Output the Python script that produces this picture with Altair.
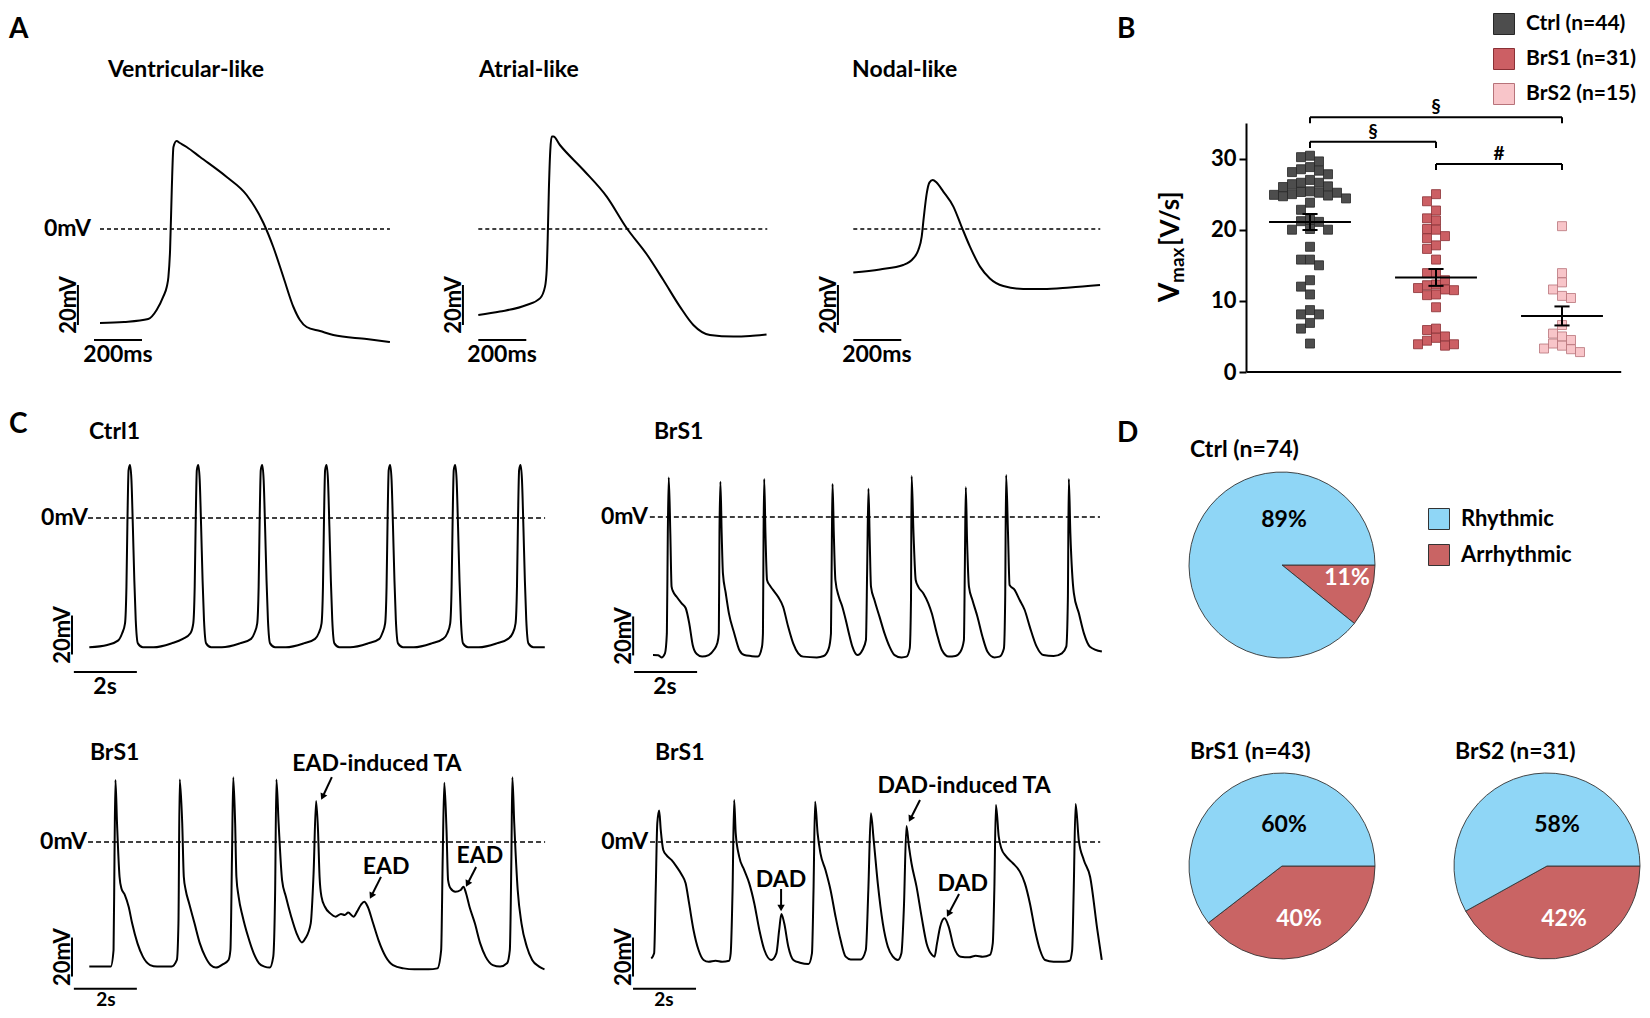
import math
import pandas as pd
import altair as alt

FONT = "Lato"
OX, OY = 8, 8
W, H = 1634, 1002
FS = 23  # main label font size

# ---------------- Panel A: single action potentials (time ms, mV) ----------------
vent_t = [0, 100, 201, 236, 264, 278, 285, 292, 299, 306, 319, 333, 361, 417, 528, 611, 681, 722, 764, 806, 833, 861, 917, 972, 1111, 1208]
vent_v = [-47, -46.5, -45, -40.5, -33.7, -29, -24, -10.5, 19.5, 41, 44, 43, 41, 36, 26, 17, 3, -9, -24, -39, -45.5, -49, -51, -53, -55, -56.5]
atr_t = [0, 90, 201, 257, 278, 285, 289, 294, 300, 306, 313, 340, 438, 535, 618, 701, 771, 840, 896, 965, 1063, 1132, 1201]
atr_v = [-43, -41.3, -38, -34.7, -28.8, -20.5, -5.5, 19.5, 39.5, 46.2, 46.2, 42, 29.5, 16.2, 0.5, -12.5, -25.5, -38.8, -48, -53, -53.8, -53.5, -52.7]
nod_t = [0, 111, 208, 250, 271, 285, 294, 306, 317, 331, 347, 375, 417, 451, 486, 528, 569, 625, 708, 792, 903, 1028]
nod_v = [-21.8, -20.2, -18, -14.7, -10.5, -3.8, 6.2, 17.8, 23.2, 24.5, 23.2, 18.7, 11.2, 1.2, -8.8, -18.8, -24.7, -28.5, -30, -30, -29.2, -28]

# ---------------- Panel B: Vmax (V/s) ----------------
groups = ["Ctrl", "BrS1", "BrS2"]
ctrl_vmax = [30.2, 30.4, 28.8, 28.5, 29.6, 28.1, 28.3, 27.8, 27.0, 26.6, 26.6, 26.1, 26.4, 26.0,
             25.4, 25.2, 25.0, 24.8, 24.9, 25.2, 25.3, 24.4, 24.7, 23.8, 22.8, 21.4, 21.1, 21.2,
             20.0, 20.0, 20.1, 17.6, 15.8, 15.8, 15.0, 12.9, 12.0, 10.9, 8.7, 8.1, 8.1, 6.9, 6.1, 4.0]
brs1_vmax = [25.0, 24.0, 22.7, 21.6, 21.3, 20.1, 20.0, 19.1, 18.8, 17.8, 17.3, 15.8, 13.9, 13.9,
             12.9, 12.2, 12.3, 11.8, 11.6, 11.5, 10.9, 10.8, 9.1, 6.1, 5.9, 4.8, 5.0, 4.4, 3.9, 3.7, 3.9]
brs2_vmax = [20.5, 13.9, 12.6, 11.6, 10.7, 10.4, 6.6, 5.4, 5.0, 4.5, 4.0, 3.7, 3.3, 3.2, 2.8]
vmax_ticks = [0, 10, 20, 30]
sig_pairs = [(0, 2, "§"), (0, 1, "§"), (1, 2, "#")]
sig_levels = [35.8, 32.35, 29.25]

# ---------------- Panel C: spontaneous activity (time s, mV) ----------------
ctrl1 = [(0, -66.3), (0.57, -65.1), (0.91, -62.9),
    (1.043, -59.1), (1.134, -54), (1.179, -35.2), (1.213, 0.7), (1.247, 24.6), (1.293, 27.2), (1.338, 19.5), (1.383, -4.4), (1.429, -31.8), (1.474, -52.3), (1.542, -64.3), (1.701, -66.3), (2.041, -66.3), (2.608, -64.3), (2.97, -62),
    (3.21, -59.1), (3.301, -54), (3.346, -35.2), (3.38, 0.7), (3.414, 24.6), (3.46, 27.2), (3.505, 19.5), (3.55, -4.4), (3.596, -31.8), (3.641, -52.3), (3.709, -64.3), (3.868, -66.3), (4.208, -66.3), (4.775, -64.3), (5.137, -62),
    (5.24, -59.1), (5.331, -54), (5.376, -35.2), (5.41, 0.7), (5.444, 24.6), (5.49, 27.2), (5.535, 19.5), (5.58, -4.4), (5.626, -31.8), (5.671, -52.3), (5.739, -64.3), (5.898, -66.3), (6.238, -66.3), (6.805, -64.3), (7.167, -62),
    (7.282, -59.1), (7.373, -54), (7.418, -35.2), (7.452, 0.7), (7.486, 24.6), (7.532, 27.2), (7.577, 19.5), (7.622, -4.4), (7.668, -31.8), (7.713, -52.3), (7.781, -64.3), (7.94, -66.3), (8.28, -66.3), (8.847, -64.3), (9.209, -62),
    (9.301, -59.1), (9.392, -54), (9.437, -35.2), (9.471, 0.7), (9.505, 24.6), (9.551, 27.2), (9.596, 19.5), (9.641, -4.4), (9.687, -31.8), (9.732, -52.3), (9.80, -64.3), (9.959, -66.3), (10.299, -66.3), (10.866, -64.3), (11.228, -62),
    (11.366, -59.1), (11.457, -54), (11.502, -35.2), (11.536, 0.7), (11.57, 24.6), (11.616, 27.2), (11.661, 19.5), (11.706, -4.4), (11.752, -31.8), (11.797, -52.3), (11.865, -64.3), (12.024, -66.3), (12.364, -66.3), (12.931, -64.3), (13.293, -62),
    (13.441, -59.1), (13.532, -54), (13.577, -35.2), (13.611, 0.7), (13.645, 24.6), (13.691, 27.2), (13.736, 19.5), (13.781, -4.4), (13.827, -31.8), (13.872, -52.3), (13.94, -64.3), (14.099, -66.3), (14.46, -66.3)]

brs1_top = [(0, -70.8), (0.16, -70.9), (0.27, -72.0), (0.38, -69.9), (0.44, -59.7), (0.47, -8.4), (0.50, 20.3), (0.55, -8.4),
    (0.59, -35.7), (0.64, -38.3), (0.75, -40.9), (0.91, -44.3), (1.04, -46.8), (1.15, -54.5), (1.26, -65.6), (1.39, -70.3),
    (1.56, -71.6), (1.77, -70.8), (1.93, -68.2), (2.04, -64.8), (2.09, -59.7), (2.11, -8.4), (2.14, 18.1), (2.18, -8.4),
    (2.22, -28.9), (2.31, -39.1), (2.41, -49.4), (2.58, -59.7), (2.74, -68.2), (2.90, -70.8), (3.11, -71.3), (3.33, -71.6),
    (3.46, -66.5), (3.49, -59.7), (3.51, -8.4), (3.53, 19.5), (3.57, -8.4), (3.62, -32.3), (3.70, -34.9), (3.81, -37.4),
    (3.97, -40.9), (4.13, -46.0), (4.29, -56.2), (4.45, -64.8), (4.61, -69.9), (4.77, -71.6), (5.20, -72.0), (5.42, -71.3),
    (5.58, -67.4), (5.65, -59.7), (5.68, -8.4), (5.70, 16.9), (5.74, -8.4), (5.79, -32.3), (5.90, -40.9), (6.01, -46.0),
    (6.12, -52.8), (6.22, -59.7), (6.33, -66.5), (6.49, -70.8), (6.65, -68.2), (6.76, -63.1), (6.80, -25.5), (6.84, 14.5),
    (6.88, -11.8), (6.92, -35.7), (7.03, -42.6), (7.19, -51.1), (7.35, -59.7), (7.51, -66.5), (7.67, -70.8), (7.89, -72.0),
    (8.05, -71.6), (8.15, -67.4), (8.19, -42.6), (8.21, 21.0), (8.27, -8.4), (8.34, -32.3), (8.42, -35.7), (8.58, -39.1),
    (8.74, -44.3), (8.85, -49.4), (9.01, -59.7), (9.17, -68.2), (9.39, -71.6), (9.60, -71.3), (9.76, -69.1), (9.87, -63.1),
    (9.90, -25.5), (9.93, 15.2), (9.97, -11.8), (10.03, -35.7), (10.14, -42.6), (10.30, -51.1), (10.46, -61.4), (10.62, -69.1),
    (10.84, -72.0), (11.00, -71.6), (11.14, -67.4), (11.18, -42.6), (11.21, 21.5), (11.27, -8.4), (11.32, -34.9), (11.48, -37.4),
    (11.64, -42.6), (11.80, -47.7), (11.96, -56.2), (12.18, -66.5), (12.39, -70.8), (12.72, -71.3), (12.98, -69.9), (13.12, -66.5),
    (13.17, -42.6), (13.20, 19.5), (13.25, -8.4), (13.36, -39.1), (13.52, -49.4), (13.68, -59.7), (13.87, -66.5), (14.25, -69.0)]

brs1_ead = [(0, -63.9), (0.68, -63.9), (0.77, -55.4), (0.80, -7.5), (0.83, 31.8), (0.88, 9.6), (0.96, -17.8), (1.02, -23.8),
    (1.13, -27.2), (1.25, -33.2), (1.36, -41.7), (1.53, -52.0), (1.70, -58.8), (1.93, -63.1), (2.15, -63.9), (2.61, -63.9),
    (2.78, -60.5), (2.83, -41.7), (2.87, 32.1), (2.95, 9.6), (3.00, -17.8), (3.06, -24.6), (3.17, -31.5), (3.34, -41.7),
    (3.51, -52.0), (3.68, -58.8), (3.85, -63.1), (4.02, -64.4), (4.25, -62.6), (4.42, -60.5), (4.48, -55.4), (4.53, -7.5),
    (4.57, 33.2), (4.63, 9.6), (4.67, -17.8), (4.74, -28.0), (4.87, -38.3), (5.04, -48.5), (5.22, -57.1), (5.39, -62.2),
    (5.56, -63.9), (5.73, -64.4), (5.84, -58.8), (5.90, -24.6), (5.94, 32.1), (6.01, 9.6), (6.12, -19.5), (6.24, -28.0),
    (6.41, -38.3), (6.58, -46.8), (6.75, -51.5), (6.86, -49.4), (7.03, -41.7), (7.12, -16.1), (7.20, 21.0), (7.26, 6.2),
    (7.31, -17.8), (7.37, -28.0), (7.48, -33.2), (7.65, -36.6), (7.82, -38.3), (7.99, -36.9), (8.11, -37.4), (8.22, -36.2),
    (8.39, -38.3), (8.50, -35.7), (8.62, -32.3), (8.73, -30.6), (8.84, -33.2), (9.01, -41.7), (9.18, -50.3), (9.41, -58.8),
    (9.64, -63.1), (9.98, -64.8), (10.32, -65.3), (10.77, -65.3), (11.05, -64.8), (11.17, -55.4), (11.22, -7.5), (11.27, 30.4),
    (11.34, 6.2), (11.39, -19.5), (11.47, -23.8), (11.62, -25.5), (11.79, -24.6), (11.88, -22.9), (11.96, -26.3), (12.07, -33.2),
    (12.24, -41.7), (12.41, -52.0), (12.58, -58.8), (12.81, -63.1), (13.04, -63.9), (13.26, -62.2), (13.35, -55.4), (13.40, -7.5),
    (13.43, 33.2), (13.49, 9.6), (13.60, -24.6), (13.72, -41.7), (13.89, -53.7), (14.06, -60.5), (14.28, -63.9), (14.45, -65.3)]

brs1_dad = [(0, -59.7), (0.09, -57.1), (0.14, -24.6), (0.19, 9.6), (0.25, 16.1), (0.30, 6.2), (0.38, -4.1), (0.48, -6.7),
    (0.64, -9.2), (0.80, -12.6), (0.97, -16.9), (1.09, -21.2), (1.20, -31.5), (1.34, -45.1), (1.50, -55.4), (1.66, -60.5),
    (1.82, -61.4), (2.04, -60.9), (2.25, -61.4), (2.47, -60.9), (2.52, -57.1), (2.58, -24.6), (2.63, 21.5), (2.68, 4.4),
    (2.79, -7.5), (2.95, -14.4), (3.11, -21.2), (3.27, -31.5), (3.43, -45.1), (3.59, -55.4), (3.81, -60.5), (3.97, -57.1),
    (4.06, -45.1), (4.13, -36.9), (4.22, -41.7), (4.35, -53.7), (4.51, -60.5), (4.72, -61.9), (4.99, -62.6), (5.10, -57.1),
    (5.15, -24.6), (5.20, 20.7), (5.28, 4.4), (5.37, -5.8), (5.53, -14.4), (5.69, -24.6), (5.85, -38.3), (6.01, -50.3),
    (6.17, -58.8), (6.33, -60.2), (6.65, -60.2), (6.81, -55.4), (6.89, -24.6), (6.97, 14.7), (7.06, 1.0), (7.19, -21.2),
    (7.35, -41.7), (7.51, -53.7), (7.67, -58.8), (7.83, -60.5), (7.94, -57.1), (8.02, -33.2), (8.10, 8.2), (8.18, -2.4),
    (8.26, -10.9), (8.42, -22.9), (8.58, -38.3), (8.74, -52.0), (8.91, -57.9), (8.99, -58.8), (9.07, -52.0), (9.17, -43.4),
    (9.31, -39.1), (9.44, -43.4), (9.60, -53.7), (9.82, -58.8), (10.09, -59.1), (10.30, -58.3), (10.52, -58.8), (10.75, -57.9),
    (10.84, -52.0), (10.89, -24.6), (10.94, 19.0), (11.03, 2.7), (11.11, -3.2), (11.27, -7.5), (11.48, -10.9), (11.70, -15.2),
    (11.86, -21.2), (12.02, -31.5), (12.18, -45.1), (12.34, -55.4), (12.50, -60.5), (12.77, -61.4), (13.09, -61.4), (13.28, -60.9),
    (13.36, -55.4), (13.41, -24.6), (13.47, 19.5), (13.57, 1.0), (13.73, -9.2), (13.93, -17.8), (14.16, -45.1), (14.30, -60.5)]

# ---------------- Panel D: rhythmic vs arrhythmic counts ----------------
pie_groups = ["Ctrl", "BrS1", "BrS2"]
rhythmic = [66, 26, 18]
arrhythmic = [8, 17, 13]

# ---------------- styles ----------------
BLUE, RED = "#8fd6f6", "#c96464"
B_FILL = ["#4d4d4d", "#cc5f64", "#f8c5c9"]
B_STROKE = ["#262626", "#8a3035", "#b7737a"]
DUMMY = pd.DataFrame({"a": [0]})


def xscale(x0, ppx, span):
    return alt.Scale(domain=[0, span], range=[x0 - OX, x0 - OX + ppx * span], nice=False, zero=False)


def yscale(y0, ppy, span):
    return alt.Scale(domain=[0, span], range=[y0 - OY, y0 - OY - ppy * span], nice=False, zero=False)


def XY(xs, ys, xf="t", yf="v"):
    return dict(x=alt.X(f"{xf}:Q", scale=xs, axis=None), y=alt.Y(f"{yf}:Q", scale=ys, axis=None))


def seg(xs, ys, rows, width=2.0, dash=None):
    df = pd.DataFrame(rows, columns=["t1", "v1", "t2", "v2"])
    kw = dict(color="black", strokeWidth=width)
    if dash:
        kw["strokeDash"] = dash
    return alt.Chart(df).mark_rule(**kw).encode(
        x=alt.X("t1:Q", scale=xs, axis=None), x2="t2:Q",
        y=alt.Y("v1:Q", scale=ys, axis=None), y2="v2:Q")


def dtext(xs, ys, t, v, s, size=FS, **mk):
    df = pd.DataFrame({"t": [t], "v": [v], "s": [s]})
    return alt.Chart(df).mark_text(font=FONT, fontWeight="bold", fontSize=size, color=mk.pop("color", "black"), **mk).encode(
        text="s:N", **XY(xs, ys))


def ptext(x, y, s, size=FS, align="left", baseline="middle", angle=0, color="black"):
    return alt.Chart(DUMMY).mark_text(text=s, font=FONT, fontWeight="bold", fontSize=size, align=align,
                                      baseline=baseline, angle=angle, color=color).encode(
        x=alt.value(x - OX), y=alt.value(y - OY))


def trace_panel(t, v, x0, y0, ppx, ppy, tspan, vspan, title, title_at, zero_label, dash_span,
                vbar, vlabel_t, tbar, tlabel_at, tlabel, arrows=(), notes=(), dash=(5, 3), tsize=FS):
    xs, ys = xscale(x0, ppx, tspan), yscale(y0, ppy, vspan)
    df = pd.DataFrame({"t": t, "v": v})
    layers = [
        alt.Chart(df).mark_line(color="black", strokeWidth=2, interpolate="monotone").encode(**XY(xs, ys)),
        seg(xs, ys, [(dash_span[0], 0, dash_span[1], 0)], width=1.6, dash=list(dash)),
        seg(xs, ys, [(vbar[0], vbar[1], vbar[0], vbar[2])], width=2),
        seg(xs, ys, [(tbar[0], tbar[2], tbar[1], tbar[2])], width=2),
        dtext(xs, ys, title_at[0], title_at[1], title, align="left", baseline="middle"),
        dtext(xs, ys, vlabel_t, (vbar[1] + vbar[2]) / 2, "20mV", size=22, angle=270, align="center", baseline="alphabetic"),
        dtext(xs, ys, tlabel_at[0], tlabel_at[1], tlabel, size=tsize, align="center", baseline="middle"),
    ]
    if zero_label is not None:
        layers.append(dtext(xs, ys, zero_label, 0, "0mV", align="right", baseline="middle"))
    if arrows:
        layers.append(seg(xs, ys, [(a[0], a[1], a[2], a[3]) for a in arrows], width=2))
        heads = []
        for (t1, v1, t2, v2) in arrows:
            dx = (t2 - t1) * ppx
            dy = -(v2 - v1) * ppy
            heads.append({"t": t2, "v": v2, "ang": math.degrees(math.atan2(dx, -dy)) % 360})
        layers.append(alt.Chart(pd.DataFrame(heads)).mark_point(shape="triangle", filled=True, size=55,
                                                               color="black", opacity=1).encode(
            angle=alt.Angle("ang:Q", scale=None), **XY(xs, ys)))
    for (nt, nv, ns) in notes:
        layers.append(dtext(xs, ys, nt, nv, ns, align="center", baseline="middle"))
    return alt.layer(*layers)


layers = []

# ---- Panel A ----
layers.append(trace_panel(vent_t, vent_v, 100, 229, 0.24, 2.0, 1000, 20, "Ventricular-like", (33, 79.5), -37.5,
                          (0, 1208), (-92, -48, -28), -100, (-25, 175, -55.5), (75, -63), "200ms", dash=(4, 3)))
layers.append(trace_panel(atr_t, atr_v, 478.3, 229, 0.24, 2.0, 1000, 20, "Atrial-like", (3, 79.5), None,
                          (0, 1204), (-64, -48, -28), -72, (0, 200, -55.5), (99, -63), "200ms", dash=(4, 3)))
layers.append(trace_panel(nod_t, nod_v, 853.3, 229, 0.24, 2.0, 1000, 20, "Nodal-like", (-5, 79.5), None,
                          (0, 1029), (-64, -48, -28), -72, (0, 200, -55.5), (98, -63), "200ms", dash=(4, 3)))

# ---- Panel C ----
def tv(pairs):
    return [p[0] for p in pairs], [p[1] for p in pairs]

t, v = tv(ctrl1)
layers.append(trace_panel(t, v, 89.3, 518, 31.5, 1.95, 10, 20, "Ctrl1", (-0.01, 44.1), -0.04,
                          (-0.04, 14.47), (-0.55, -70, -50), -0.61, (-0.49, 1.51, -79), (0.5, -86.5), "2s"))
t, v = tv(brs1_top)
layers.append(trace_panel(t, v, 653, 517, 31.5, 1.95, 10, 20, "BrS1", (0.03, 43.6), -0.16,
                          (-0.1, 14.19), (-0.63, -71, -51), -0.71, (-0.6, 1.4, -79.5), (0.38, -87), "2s"))
t, v = tv(brs1_ead)
layers.append(trace_panel(t, v, 89.3, 842, 31.5, 1.95, 10, 20, "BrS1", (0.02, 45.6), -0.07,
                          (-0.04, 14.47), (-0.55, -69, -49), -0.61, (-0.49, 1.51, -75.3), (0.53, -80.8), "2s",
                          arrows=[(7.70, 33.3, 7.42, 23.6), (9.26, -17.9, 8.97, -27.2), (12.28, -12.8, 12.02, -21.0)],
                          notes=[(9.13, 40, "EAD-induced TA"), (9.42, -12.8, "EAD"), (12.4, -7.2, "EAD")], tsize=19))
t, v = tv(brs1_dad)
layers.append(trace_panel(t, v, 651.3, 842, 31.5, 1.95, 10, 20, "BrS1", (0.12, 45.6), -0.1,
                          (-0.04, 14.25), (-0.58, -69, -49), -0.66, (-0.58, 1.42, -75.3), (0.4, -80.8), "2s",
                          arrows=[(8.53, 21.5, 8.24, 12.3), (4.12, -24.1, 4.12, -33.3), (9.77, -26.7, 9.45, -36.4)],
                          notes=[(9.93, 28.7, "DAD-induced TA"), (4.12, -19.5, "DAD"), (9.89, -21.5, "DAD")], tsize=19))

# ---- Panel B ----
PPU_X, PPU_Y = 126.0, 7.114


def swarm(vals, side=8.8, step=3.0):
    """Greedy beeswarm: each square takes the free horizontal slot closest to the centre line."""
    order = sorted(range(len(vals)), key=lambda i: -vals[i])
    placed, offs = [], [0.0] * len(vals)
    cands = sorted([k * step for k in range(-20, 21)], key=lambda o: (abs(o), o))
    for i in order:
        y = vals[i] * PPU_Y
        for o in cands:
            if all(abs(o - po) >= side or abs(y - py) >= side for po, py in placed):
                break
        placed.append((o, y))
        offs[i] = o / PPU_X
    return offs


rows = []
labels = []
for g, (name, vals) in enumerate(zip(groups, [ctrl_vmax, brs1_vmax, brs2_vmax])):
    lab = f"{name} (n={len(vals)})"
    labels.append(lab)
    for val, off in zip(vals, swarm(vals)):
        rows.append({"g": g, "v": val, "x": g + off, "label": lab})
dfB = pd.DataFrame(rows)

xsB = alt.Scale(domain=[-0.5, 2.5], range=[1247 - OX, 1625 - OX], nice=False, zero=False)
ysB = alt.Scale(domain=[0, 35], range=[372 - OY, 123 - OY], nice=False, zero=False)
yaxB = alt.Axis(orient="left", offset=-(1246 - OX), values=vmax_ticks, title=None, grid=False,
                domainColor="black", domainWidth=2, tickColor="black", tickWidth=2, tickSize=7,
                labelFont=FONT, labelFontSize=22, labelFontWeight="bold", labelColor="black", labelPadding=3)

legB = alt.Legend(orient="none", legendX=1493 - OX, legendY=5, title=None, symbolType="square",
                  symbolSize=441, symbolStrokeColor="#333333", symbolStrokeWidth=1, symbolOpacity=1,
                  labelFont=FONT, labelFontSize=21, labelFontWeight="bold", labelColor="black",
                  labelOffset=11, rowPadding=9, padding=0, labelLimit=400)

pts = alt.Chart(dfB).mark_square(size=81, strokeWidth=0.8, opacity=1).encode(
    x=alt.X("x:Q", scale=xsB, axis=None),
    y=alt.Y("v:Q", scale=ysB, axis=yaxB),
    fill=alt.Fill("label:N", scale=alt.Scale(domain=labels, range=B_FILL), legend=legB),
    stroke=alt.Stroke("label:N", scale=alt.Scale(domain=labels, range=B_STROKE), legend=None))

stats = alt.Chart(dfB).transform_aggregate(m="mean(v)", se="stderr(v)", groupby=["g"]).transform_calculate(
    lo="datum.m - datum.se", hi="datum.m + datum.se",
    xl="datum.g - 0.325", xr="datum.g + 0.325", cl="datum.g - 0.06", cr="datum.g + 0.06")
mean_line = stats.mark_rule(color="black", strokeWidth=2).encode(
    x=alt.X("xl:Q", scale=xsB, axis=None), x2="xr:Q", y=alt.Y("m:Q", scale=ysB, axis=yaxB))
err_v = stats.mark_rule(color="black", strokeWidth=2).encode(
    x=alt.X("g:Q", scale=xsB, axis=None), y=alt.Y("lo:Q", scale=ysB, axis=yaxB), y2="hi:Q")
cap_hi = stats.mark_rule(color="black", strokeWidth=2).encode(
    x=alt.X("cl:Q", scale=xsB, axis=None), x2="cr:Q", y=alt.Y("hi:Q", scale=ysB, axis=yaxB))
cap_lo = stats.mark_rule(color="black", strokeWidth=2).encode(
    x=alt.X("cl:Q", scale=xsB, axis=None), x2="cr:Q", y=alt.Y("lo:Q", scale=ysB, axis=yaxB))

brk_rows, brk_txt = [], []
for (a, b, s), lev in zip(sig_pairs, sig_levels):
    brk_rows += [(a, lev, b, lev), (a, lev, a, lev - 0.85), (b, lev, b, lev - 0.85)]
    brk_txt.append({"t": (a + b) / 2, "v": lev + 1.4, "s": s})
brk = alt.Chart(pd.DataFrame(brk_rows, columns=["t1", "v1", "t2", "v2"])).mark_rule(color="black", strokeWidth=2).encode(
    x=alt.X("t1:Q", scale=xsB, axis=None), x2="t2:Q", y=alt.Y("v1:Q", scale=ysB, axis=yaxB), y2="v2:Q")
brk_t = alt.Chart(pd.DataFrame(brk_txt)).mark_text(font=FONT, fontWeight="bold", fontSize=19, color="black",
                                                    baseline="middle").encode(
    x=alt.X("t:Q", scale=xsB, axis=None), y=alt.Y("v:Q", scale=ysB, axis=yaxB), text="s:N")
xline = alt.Chart(pd.DataFrame({"t1": [-0.5], "t2": [2.47], "v": [0]})).mark_rule(color="black", strokeWidth=2).encode(
    x=alt.X("t1:Q", scale=xsB, axis=None), x2="t2:Q", y=alt.Y("v:Q", scale=ysB, axis=yaxB))

layers.append(alt.layer(xline, pts, mean_line, err_v, cap_hi, cap_lo, brk, brk_t))

# ---- Panel D ----
legD = alt.Legend(orient="none", legendX=1428 - OX, legendY=508 - OY, title=None, symbolType="square",
                  symbolSize=441, symbolStrokeColor="#333333", symbolStrokeWidth=1, symbolOpacity=1,
                  labelFont=FONT, labelFontSize=22, labelFontWeight="bold", labelColor="black",
                  labelOffset=11, rowPadding=10, padding=0, labelLimit=400)
pie_centers = [(1282, 565), (1282, 866), (1547, 866)]
for i, (name, r, a, (cx, cy)) in enumerate(zip(pie_groups, rhythmic, arrhythmic, pie_centers)):
    dfp = pd.DataFrame({"cat": ["Arrhythmic", "Rhythmic"], "n": [a, r], "o": [0, 1]})
    layers.append(alt.Chart(dfp).mark_arc(radius=93, stroke="#333333", strokeWidth=0.9).encode(
        theta=alt.Theta("n:Q", stack=True, scale=alt.Scale(range=[math.pi / 2, math.pi / 2 + 2 * math.pi])),
        color=alt.Color("cat:N", scale=alt.Scale(domain=["Rhythmic", "Arrhythmic"], range=[BLUE, RED]),
                        legend=legD if i == 0 else None),
        order=alt.Order("o:Q"),
        x=alt.value(cx - OX), y=alt.value(cy - OY)))
    tot = r + a
    pr = round(100 * r / tot)
    layers.append(ptext(cx - 92, cy - 115 if i == 0 else cy - 114, f"{name} (n={tot})"))
    if i == 0:
        layers.append(ptext(cx + 2, cy - 45, f"{pr}%", align="center"))
        layers.append(ptext(cx + 65, cy + 13, f"{100 - pr}%", align="center", color="white"))
    else:
        layers.append(ptext(cx + 2 + (8 if i == 2 else 0), cy - 41, f"{pr}%", align="center"))
        layers.append(ptext(cx + 17, cy + 53, f"{100 - pr}%", align="center", color="white"))

# ---- panel letters and B axis title ----
layers.append(ptext(9, 30, "A", size=28))
layers.append(ptext(1117, 30, "B", size=28))
layers.append(ptext(9, 425, "C", size=28))
layers.append(ptext(1117, 434, "D", size=28))
layers.append(ptext(1179, 302, "V", size=28, angle=270, baseline="alphabetic"))
layers.append(ptext(1184, 283, "max", size=19, angle=270, baseline="alphabetic"))
layers.append(ptext(1179, 246, "[V/s]", size=26, angle=270, baseline="alphabetic"))

chart = alt.layer(*layers).resolve_scale(
    x="independent", y="independent", color="independent", fill="independent",
    stroke="independent", theta="independent").properties(
    width=W, height=H, autosize=alt.AutoSizeParams(type="none"), padding=0, background="white"
).configure_view(stroke=None)

chart.save("out.html", embed_options={"renderer": "svg", "actions": False})
